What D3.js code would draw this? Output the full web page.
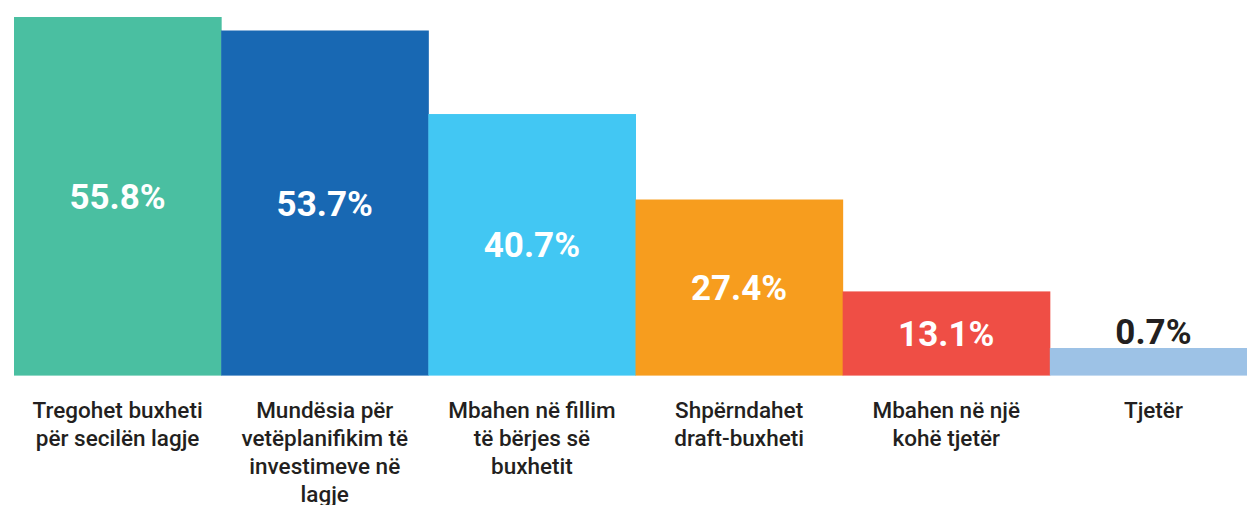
<!DOCTYPE html>
<html>
<head>
<meta charset="utf-8">
<script src="https://cdn.jsdelivr.net/npm/d3@7"></script>
<style>
  html, body { margin: 0; padding: 0; background: #ffffff; }
  svg { display: block; }
</style>
</head>
<body>
<svg id="chart" width="1247" height="505"></svg>
<script>
// ---- data ----
const categories = [
  "Tregohet buxheti\npër secilën lagje",
  "Mundësia për\nvetëplanifikim të\ninvestimeve në\nlagje",
  "Mbahen në fillim\ntë bërjes së\nbuxhetit",
  "Shpërndahet\ndraft-buxheti",
  "Mbahen në një\nkohë tjetër",
  "Tjetër"
];
const values = [55.8, 53.7, 40.7, 27.4, 13.1, 0.7];
const colors = ["#4abfa1", "#1868b3", "#42c7f3", "#f79d1e", "#ef4e45", "#9dc2e6"];

// ---- layout ----
const svg = d3.select("#chart");
const baseline = 375.6;
const minBarHeight = 27.6;

const x = d3.scaleBand()
  .domain(d3.range(categories.length))
  .range([14, 1257])
  .paddingInner(0)
  .paddingOuter(0);

const y = d3.scaleLinear()
  .domain([0, d3.max(values)])
  .range([baseline, 17]);

const data = values.map((v, i) => ({ v, i, cat: categories[i], color: colors[i] }));
const barTop = d => Math.min(y(d.v), baseline - minBarHeight);

// bars
svg.append("g").selectAll("rect")
  .data(data)
  .join("rect")
  .attr("x", d => x(d.i))
  .attr("y", d => barTop(d))
  .attr("width", x.bandwidth() + 0.5)
  .attr("height", d => baseline - barTop(d))
  .attr("fill", d => d.color);

// value labels
svg.append("g").selectAll("text")
  .data(data)
  .join("text")
  .attr("x", d => x(d.i) + x.bandwidth() / 2)
  .attr("y", d => {
    const top = barTop(d);
    const h = baseline - top;
    if (h < 50) return top - 4;
    return (top + baseline) / 2 + 12.5;
  })
  .attr("text-anchor", "middle")
  .attr("font-family", "Roboto, 'Noto Sans', sans-serif")
  .attr("font-weight", 700)
  .attr("font-size", 35)
  .attr("fill", d => (baseline - barTop(d)) < 50 ? "#231f20" : "#ffffff")
  .text(d => d3.format(".1f")(d.v) + "%");

// category labels (x axis, no line / ticks)
const xAxis = d3.axisBottom(x).tickSize(0).tickFormat(i => categories[i]);
const gx = svg.append("g")
  .attr("transform", `translate(0,${baseline})`)
  .call(xAxis);
gx.select(".domain").remove();
gx.selectAll(".tick text").each(function(i) {
  const t = d3.select(this);
  const lines = categories[i].split("\n");
  t.text(null)
    .attr("y", 0)
    .attr("dy", null)
    .attr("font-family", "Roboto, 'Noto Sans', sans-serif")
    .attr("font-weight", 500)
    .attr("font-size", 22.5)
    .attr("fill", "#231f20");
  lines.forEach((ln, k) => {
    t.append("tspan")
      .attr("x", 0)
      .attr("y", 42 + k * 28.3)
      .text(ln);
  });
});
</script>
</body>
</html>
